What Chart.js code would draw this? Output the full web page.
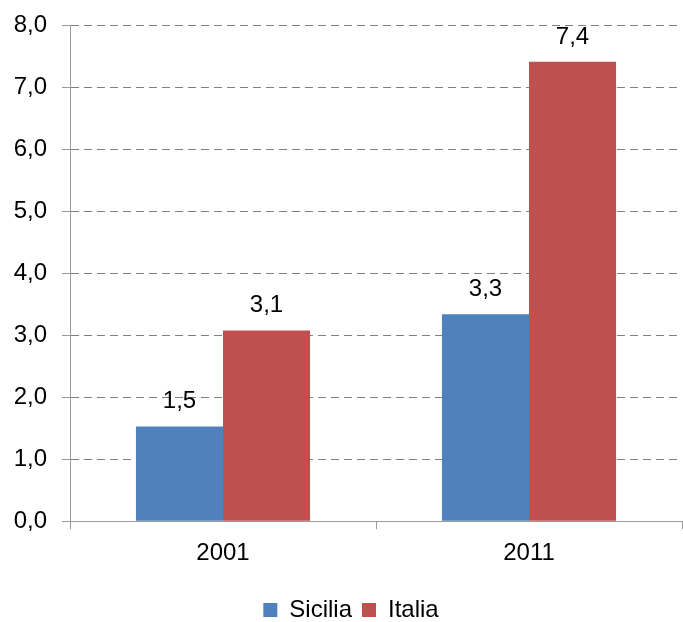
<!DOCTYPE html>
<html>
<head>
<meta charset="utf-8">
<script src="https://cdn.jsdelivr.net/npm/chart.js@4/dist/chart.umd.min.js"></script>
<style>
  html, body { margin: 0; padding: 0; background: #fff; }
  #wrap { width: 683px; height: 622px; position: relative; }
</style>
</head>
<body>
<div id="wrap"><canvas id="chart"></canvas></div>
<script>
const years = ["2001", "2011"];
const sicilia = [1.53, 3.34];
const italia = [3.08, 7.42];
const yTicks = [0, 1, 2, 3, 4, 5, 6, 7, 8];

const FONT = "'Liberation Sans', Arial, sans-serif";
const AXIS = "#9a9a9a";
const GRID = "#808080";

function fmt(v) {
  return v.toFixed(1).replace(".", ",");
}

// value labels above each bar
const barLabels = {
  id: "barLabels",
  afterDatasetsDraw(chart) {
    const ctx = chart.ctx;
    ctx.save();
    ctx.font = "24px " + FONT;
    ctx.fillStyle = "#000";
    ctx.textAlign = "center";
    ctx.textBaseline = "alphabetic";
    chart.data.datasets.forEach((ds, i) => {
      chart.getDatasetMeta(i).data.forEach((bar, j) => {
        ctx.fillText(fmt(ds.data[j]), bar.x, bar.y - 18);
      });
    });
    ctx.restore();
  }
};

// nudge the legend a bit right and down, like the original
const legendNudge = {
  id: "legendNudge",
  afterLayout(chart) {
    const lg = chart.legend;
    if (!lg) return;
    lg.left += 4; lg.right += 4;
    lg.top += 10; lg.bottom += 10;
  }
};

new Chart(document.getElementById("chart"), {
  type: "bar",
  data: {
    labels: years,
    datasets: [
      { label: "Sicilia", data: sicilia, backgroundColor: "#4f81bd" },
      { label: "Italia", data: italia, backgroundColor: "#c0504d" }
    ]
  },
  options: {
    responsive: true,
    maintainAspectRatio: false,
    animation: false,
    layout: { padding: { left: 12, right: 1, top: 4, bottom: 0 } },
    datasets: {
      bar: { barPercentage: 1, categoryPercentage: 0.569 }
    },
    plugins: {
      legend: {
        position: "bottom",
        labels: {
          boxWidth: 14,
          boxHeight: 14,
          padding: 10,
          color: "#000",
          font: { family: FONT, size: 24 }
        }
      },
      tooltip: { enabled: false }
    },
    scales: {
      x: {
        grid: {
          drawOnChartArea: false,
          drawTicks: true,
          tickLength: 8,
          color: AXIS
        },
        border: { color: AXIS, width: 1 },
        ticks: { color: "#000", padding: 10, font: { family: FONT, size: 24 } }
      },
      y: {
        min: 0,
        max: 8,
        afterBuildTicks(scale) { scale.ticks = yTicks.map(v => ({ value: v })); },
        afterFit(scale) { scale.width = 58; },
        grid: {
          color: GRID,
          tickLength: 8,
          tickColor: AXIS
        },
        border: { color: AXIS, width: 1, dash: [8, 5] },
        ticks: {
          color: "#000",
          padding: 15,
          font: { family: FONT, size: 24, lineHeight: 0.9 },
          callback: v => fmt(v)
        }
      }
    }
  },
  plugins: [barLabels, legendNudge]
});
</script>
</body>
</html>
